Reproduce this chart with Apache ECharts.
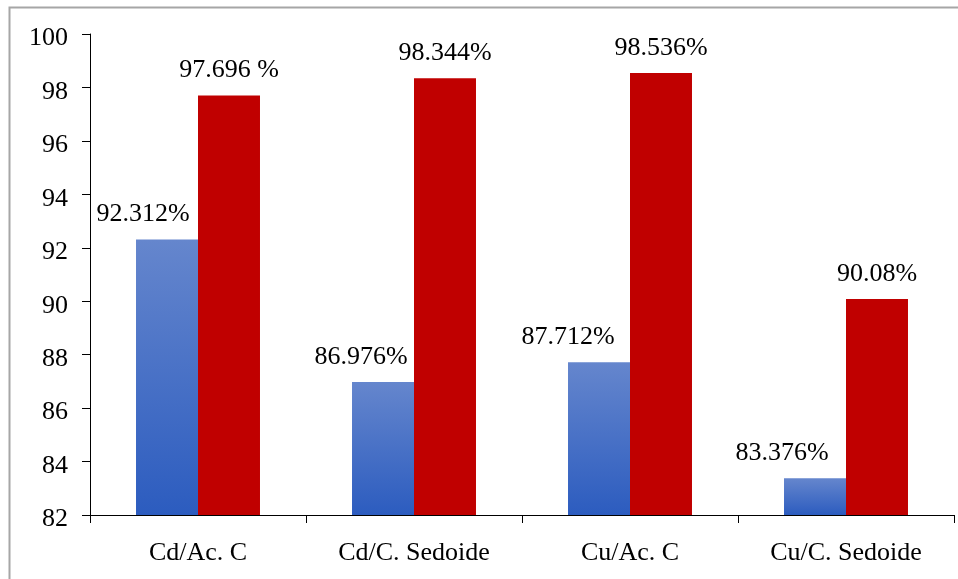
<!DOCTYPE html>
<html>
<head>
<meta charset="utf-8">
<script src="https://cdn.jsdelivr.net/npm/echarts@6/dist/echarts.min.js"></script>
<style>
  html, body { margin: 0; padding: 0; background: #ffffff; }
  #chart { width: 958px; height: 579px; }
  .fontwarm { position: absolute; left: -9999px; font-family: 'Liberation Serif', serif; font-size: 26px; }
</style>
</head>
<body>
<div class="fontwarm">Cd/Ac. C 0123456789%</div>
<div id="chart"></div>
<script>
// Removal efficiency per metal / adsorbent pair (%)
const categories = ['Cd/Ac. C', 'Cd/C. Sedoide', 'Cu/Ac. C', 'Cu/C. Sedoide'];
const blueValues = [92.312, 86.976, 87.712, 83.376];
const redValues = [97.696, 98.344, 98.536, 90.08];
const blueLabels = ['92.312%', '86.976%', '87.712%', '83.376%'];
const redLabels = ['97.696 %', '98.344%', '98.536%', '90.08%'];
const yTicks = { min: 82, max: 100, interval: 2 };

// Horizontal nudge of each blue value label (px)
const blueLabelShift = [-24, -22, -31, -33];

const FONT = 'Liberation Serif';

function render() {
  const chart = echarts.init(document.getElementById('chart'), null, { renderer: 'canvas' });

  const blueGradient = new echarts.graphic.LinearGradient(0, 0, 0, 1, [
    { offset: 0, color: '#6586cd' },
    { offset: 1, color: '#2c5cbf' }
  ]);

  const labelText = { color: '#000000', fontSize: 26, fontFamily: FONT };

  chart.setOption({
    backgroundColor: '#ffffff',
    animation: false,
    textStyle: { fontFamily: FONT },
    graphic: [{
      type: 'rect',
      left: 7, top: 5,
      shape: { x: 0, y: 0, width: 1000, height: 1000 },
      style: { fill: 'none', stroke: '#a6a6a6', lineWidth: 2 },
      silent: true
    }],
    grid: { left: 90, right: 4, top: 34, bottom: 64, containLabel: false },
    xAxis: {
      type: 'category',
      data: categories,
      axisLine: { lineStyle: { color: '#000000', width: 1 } },
      axisTick: { show: true, length: 8, inside: false, lineStyle: { color: '#000000' } },
      axisLabel: Object.assign({ margin: 25 }, labelText),
      splitLine: { show: false }
    },
    yAxis: {
      type: 'value',
      min: yTicks.min,
      max: yTicks.max,
      interval: yTicks.interval,
      axisLine: { show: true, lineStyle: { color: '#000000', width: 1 } },
      axisTick: { show: true, length: 8, inside: false, lineStyle: { color: '#000000' } },
      // labels sit slightly below their tick marks
      axisLabel: Object.assign({ margin: 22, verticalAlign: 'top', lineHeight: 9 }, labelText),
      splitLine: { show: false }
    },
    series: [
      {
        type: 'bar',
        barGap: '0%',
        barCategoryGap: '42.6%',
        data: blueValues.map((v, i) => ({
          value: v,
          label: { offset: [blueLabelShift[i], 0] }
        })),
        itemStyle: { color: blueGradient },
        label: Object.assign({
          show: true,
          position: 'top',
          distance: 12,
          formatter: p => blueLabels[p.dataIndex]
        }, labelText)
      },
      {
        type: 'bar',
        data: redValues,
        itemStyle: { color: '#c00000' },
        label: Object.assign({
          show: true,
          position: 'top',
          distance: 12,
          formatter: p => redLabels[p.dataIndex]
        }, labelText)
      }
    ]
  });
}

if (document.fonts && document.fonts.load) {
  document.fonts.load('26px "Liberation Serif"').then(render, render);
} else {
  render();
}
</script>
</body>
</html>
